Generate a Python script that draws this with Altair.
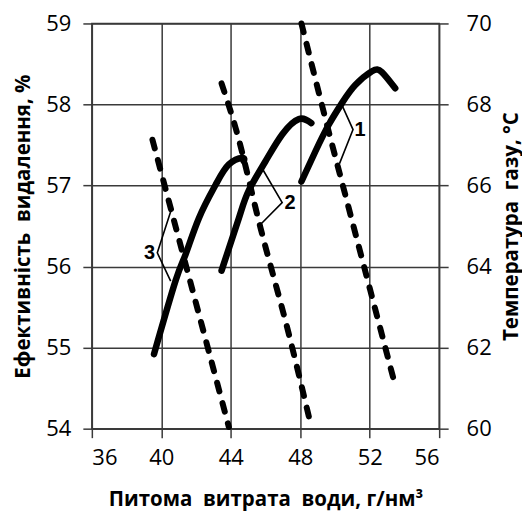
import altair as alt
import pandas as pd

# Efficiency curves (left axis, %)
c1_x = [48.07, 48.87, 49.64, 50.41, 51.17, 52.13, 52.7, 53.47]
c1_y = [57.05, 57.42, 57.75, 58.02, 58.24, 58.41, 58.4, 58.2]
c2_x = [43.47, 44.47, 45.04, 46.0, 46.96, 47.92, 48.64]
c2_y = [55.95, 56.6, 56.94, 57.3, 57.63, 57.82, 57.77]
c3_x = [39.58, 40.83, 41.4, 42.17, 43.13, 43.89, 44.66, 44.75]
c3_y = [54.92, 55.83, 56.15, 56.6, 57.01, 57.26, 57.34, 57.3]

# Gas temperature curves (right axis, °C)
d1_x = [48.07, 49.45, 50.79, 52.03, 53.37]
d1_t = [70.0, 67.65, 65.45, 63.42, 61.23]
d2_x = [43.47, 44.28, 45.71, 47.34, 48.64]
d2_t = [68.52, 67.42, 64.96, 62.34, 60.04]
d3_x = [39.49, 41.4, 43.89]
d3_t = [67.13, 64.06, 60.04]

# Callout brackets (left axis units) and labels
b1_x = [50.41, 51.04, 50.26]
b1_y = [57.99, 57.69, 57.27]
b2_x = [45.81, 46.96, 45.71]
b2_y = [57.21, 56.79, 56.52]
b3_x = [40.54, 39.77, 40.54]
b3_y = [56.68, 56.17, 55.82]
lab_text = ["1", "2", "3"]
lab_x = [51.45, 47.42, 39.32]
lab_y = [57.69, 56.79, 56.17]

x_ticks = [36, 40, 44, 48, 52, 56]
yl_ticks = [54, 55, 56, 57, 58, 59]
yr_ticks = [60, 62, 64, 66, 68, 70]

# right axis (60..70 °C) is mapped onto the left axis range (54..59 %)
YL_MIN, YL_MAX = 54, 59
YR_MIN, YR_MAX = 60, 70


def rows(xs, ys, name, yname):
    return [{"x": a, yname: b, "s": name, "o": i} for i, (a, b) in enumerate(zip(xs, ys))]


solid = pd.DataFrame(rows(c1_x, c1_y, "1", "y") + rows(c2_x, c2_y, "2", "y") + rows(c3_x, c3_y, "3", "y"))
dashed = pd.DataFrame(rows(d1_x, d1_t, "1", "t") + rows(d2_x, d2_t, "2", "t") + rows(d3_x, d3_t, "3", "t"))
brackets = pd.DataFrame(rows(b1_x, b1_y, "1", "y") + rows(b2_x, b2_y, "2", "y") + rows(b3_x, b3_y, "3", "y"))
labels = pd.DataFrame({"x": lab_x, "y": lab_y, "txt": lab_text})

GRID = "#3a3a3a"
LABEL_FONT = "Open Sans"
TITLE_FONT = "Open Sans"

k = (YR_MAX - YR_MIN) / (YL_MAX - YL_MIN)
yr_as_left = [YL_MIN + (v - YR_MIN) / k for v in yr_ticks]

xs = alt.Scale(domain=[36, 56], nice=False, zero=False)
ys = alt.Scale(domain=[YL_MIN, YL_MAX], nice=False, zero=False)

x_axis = alt.Axis(
    values=x_ticks, title="Питома\u00a0 витрата\u00a0 води, г/нм³", format="d",
    grid=True, gridColor=GRID, gridWidth=1.5, gridOpacity=1,
    domain=False, ticks=True, tickColor=GRID, tickWidth=1.5, tickSize=9,
    labelFont=LABEL_FONT, labelFontSize=22, labelColor="black", labelPadding=10,
    titleFont=TITLE_FONT, titleFontSize=20.5, titleFontWeight="bold", titleColor="black",
    titlePadding=21,
)

yl_axis = alt.Axis(
    values=yl_ticks, title="Ефективність\u00a0 видалення, %", orient="left", format="d",
    grid=True, gridColor=GRID, gridWidth=1.5, gridOpacity=1,
    domain=False, ticks=True, tickColor=GRID, tickWidth=1.5, tickSize=9,
    labelFont=LABEL_FONT, labelFontSize=22, labelColor="black", labelPadding=12,
    titleFont=TITLE_FONT, titleFontSize=20.5, titleFontWeight="bold", titleColor="black",
    titlePadding=12,
)

yr_axis = alt.Axis(
    values=yr_as_left, title="Температура\u00a0 газу, °С", orient="right",
    labelExpr=f"format({YR_MIN} + (datum.value - {YL_MIN}) * {k}, 'd')",
    grid=False, domain=False, ticks=True, tickColor=GRID, tickWidth=1.5, tickSize=9,
    labelFont=LABEL_FONT, labelFontSize=22, labelColor="black", labelPadding=18,
    titleFont=TITLE_FONT, titleFontSize=20.5, titleFontWeight="bold", titleColor="black",
    titlePadding=30, titleAngle=270,
)

solid_layer = alt.Chart(solid).mark_line(
    color="black", strokeWidth=6.5, strokeCap="round", interpolate="natural"
).encode(
    x=alt.X("x:Q", scale=xs, axis=x_axis),
    y=alt.Y("y:Q", scale=ys, axis=yl_axis),
    detail="s:N", order="o:Q",
)

bracket_layer = alt.Chart(brackets).mark_line(
    color="black", strokeWidth=1.6
).encode(
    x=alt.X("x:Q"),
    y=alt.Y("y:Q", axis=None),
    detail="s:N", order="o:Q",
)

label_layer = alt.Chart(labels).mark_text(
    font="Liberation Sans", fontSize=20, fontWeight="bold", color="black", align="center", baseline="middle"
).encode(
    x=alt.X("x:Q"),
    y=alt.Y("y:Q", axis=None),
    text="txt:N",
)

dashed_layer = alt.Chart(dashed).transform_calculate(
    y=f"{YL_MIN} + (datum.t - {YR_MIN}) / {k}"
).mark_line(
    color="black", strokeWidth=6, strokeCap="round", strokeDash=[9, 12], interpolate="monotone"
).encode(
    x=alt.X("x:Q"),
    y=alt.Y("y:Q", axis=yr_axis),
    detail="s:N",
    order="o:Q",
)

chart = alt.layer(solid_layer, bracket_layer, label_layer, dashed_layer).resolve_axis(
    y="independent"
).properties(
    width=348, height=406,
    padding={"left": 5, "top": 3, "right": 0, "bottom": 0},
).configure_view(stroke=GRID, strokeWidth=1.5)

chart.save("out.html", embed_options={"renderer": "svg", "actions": False})
